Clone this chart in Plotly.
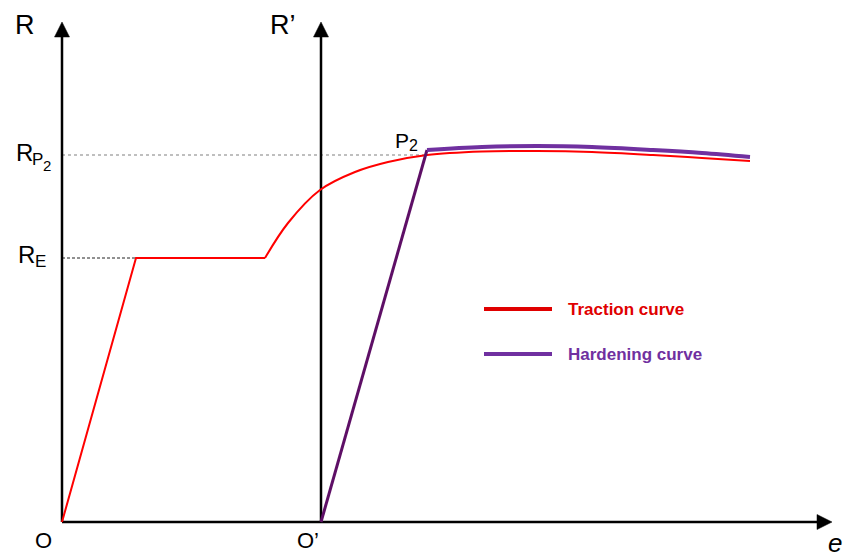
import plotly.graph_objects as go

# ---- data (strain e, stress R) in chart units; origin O at (0,0) ----
traction_lin_e = [0, 74, 203]
traction_lin_R = [0, 264, 264]
traction_curve_e = [203, 226, 258, 293, 326, 365, 420, 475, 530, 591, 640, 688]
traction_curve_R = [264, 299, 332, 350, 360, 367, 370.5, 371, 370, 367, 364, 361]

hardening_lin_e = [259, 365]
hardening_lin_R = [0, 372]
hardening_curve_e = [365, 420, 475, 530, 591, 640, 688]
hardening_curve_R = [372, 375, 376, 375, 372, 369, 365]

R_E = 264
R_P2 = 367
e_O2 = 259          # position of O'
e_max = 770         # end of e axis (arrow tip)
R_max = 500         # top of R axes (arrow tip)

RED = "#FF0000"
PURPLE = "#7030A0"
DARK_PURPLE = "#5E0F66"
FONT = "Liberation Sans, Arial, sans-serif"

fig = go.Figure()

# dashed reference lines
fig.add_trace(go.Scatter(x=[0, traction_lin_e[1]], y=[R_E, R_E], mode="lines",
                         line=dict(color="#222222", width=1, dash="3px,2px"), hoverinfo="skip"))
fig.add_trace(go.Scatter(x=[0, hardening_lin_e[1]], y=[R_P2, R_P2], mode="lines",
                         line=dict(color="#808080", width=1.2, dash="3px,3px"), hoverinfo="skip"))

# axes
axis_style = dict(color="black", width=2.5)
fig.add_trace(go.Scatter(x=[0, e_max - 14], y=[0, 0], mode="lines", line=axis_style, hoverinfo="skip"))
fig.add_trace(go.Scatter(x=[0, 0], y=[0, R_max - 14], mode="lines", line=axis_style, hoverinfo="skip"))
fig.add_trace(go.Scatter(x=[e_O2, e_O2], y=[0, R_max - 14], mode="lines", line=axis_style, hoverinfo="skip"))

# arrow heads
for x0 in (0, e_O2):
    fig.add_trace(go.Scatter(x=[x0 - 7.5, x0 + 7.5, x0, x0 - 7.5],
                             y=[R_max - 15, R_max - 15, R_max, R_max - 15],
                             mode="lines", fill="toself", fillcolor="black",
                             line=dict(color="black", width=0.5), hoverinfo="skip"))
fig.add_trace(go.Scatter(x=[e_max - 15, e_max - 15, e_max, e_max - 15],
                         y=[-7.5, 7.5, 0, -7.5],
                         mode="lines", fill="toself", fillcolor="black",
                         line=dict(color="black", width=0.5), hoverinfo="skip"))

# traction curve
fig.add_trace(go.Scatter(x=traction_lin_e, y=traction_lin_R, mode="lines",
                         line=dict(color=RED, width=2), hoverinfo="skip"))
fig.add_trace(go.Scatter(x=traction_curve_e, y=traction_curve_R, mode="lines",
                         line=dict(color=RED, width=2, shape="spline", smoothing=1), hoverinfo="skip"))

# hardening curve
fig.add_trace(go.Scatter(x=hardening_lin_e, y=hardening_lin_R, mode="lines",
                         line=dict(color=DARK_PURPLE, width=3), hoverinfo="skip"))
fig.add_trace(go.Scatter(x=hardening_curve_e, y=hardening_curve_R, mode="lines",
                         line=dict(color=PURPLE, width=4, shape="spline", smoothing=1), hoverinfo="skip"))

# legend (manual)
leg_x = [422, 490]
fig.add_trace(go.Scatter(x=leg_x, y=[213, 213], mode="lines",
                         line=dict(color="#E00000", width=4), hoverinfo="skip"))
fig.add_trace(go.Scatter(x=leg_x, y=[168, 168], mode="lines",
                         line=dict(color=PURPLE, width=4), hoverinfo="skip"))

annotations = [
    dict(x=-37, y=497, text="R", font=dict(size=27)),
    dict(x=221, y=497, text="R’", font=dict(size=27)),
    # R_P2 label
    dict(x=-37.5, y=R_P2 + 3, text="R", font=dict(size=24)),
    dict(x=-25, y=R_P2 - 4, text="P", font=dict(size=17)),
    dict(x=-15.5, y=R_P2 - 10, text="2", font=dict(size=15)),
    # R_E label
    dict(x=-35.5, y=R_E + 4, text="R", font=dict(size=24)),
    dict(x=-22, y=R_E - 3, text="E", font=dict(size=17)),
    # P2 label
    dict(x=339.5, y=R_P2 + 15, text="P", font=dict(size=21)),
    dict(x=351, y=R_P2 + 10, text="2", font=dict(size=16)),
    dict(x=-19, y=-18, text="O", font=dict(size=22)),
    dict(x=246, y=-18, text="O’", font=dict(size=22)),
    dict(x=773, y=-21, text="<i>e</i>", font=dict(size=26)),
    dict(x=504, y=213, text="<b>Traction curve</b>", font=dict(size=17, color="#E00000"), xanchor="left"),
    dict(x=504, y=168, text="<b>Hardening curve</b>", font=dict(size=17, color=PURPLE), xanchor="left"),
]
for a in annotations:
    a.setdefault("xanchor", "center")
    a.setdefault("yanchor", "middle")
    a["showarrow"] = False
    a["xref"] = "x"
    a["yref"] = "y"
    a["font"].setdefault("color", "black")
    a["font"]["family"] = FONT

fig.update_layout(
    width=846, height=557,
    margin=dict(l=0, r=0, t=0, b=0),
    paper_bgcolor="white", plot_bgcolor="white",
    showlegend=False,
    xaxis=dict(range=[-62, 784], visible=False, fixedrange=True),
    yaxis=dict(range=[-35, 522], visible=False, fixedrange=True),
    annotations=annotations,
    font=dict(family=FONT),
)

fig.write_html("out.html")
